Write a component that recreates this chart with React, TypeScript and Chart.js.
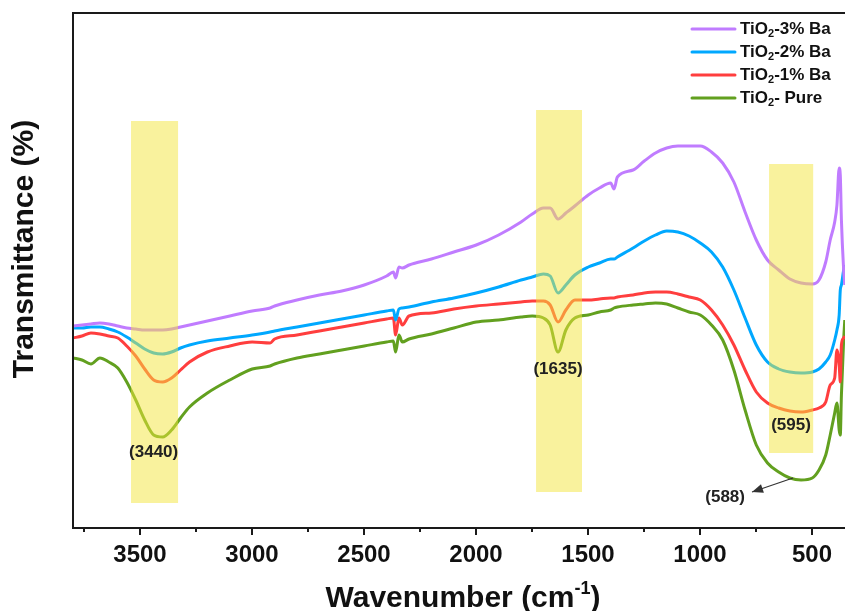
import React, { useEffect, useRef } from "react";
import { Chart, registerables } from "chart.js";

Chart.register(...registerables);

// Wavenumber grid (cm-1)
const wavenumbers = [
  3800, 3760, 3720, 3680, 3640, 3600, 3560, 3520, 3480, 3440,
  3400, 3360, 3320, 3280, 3200, 3100, 3000, 2920, 2900, 2800,
  2700, 2600, 2500, 2400, 2370, 2360, 2345, 2330, 2300, 2200,
  2100, 2000, 1900, 1800, 1750, 1700, 1670, 1635, 1600, 1560,
  1500, 1450, 1400, 1385, 1370, 1300, 1250, 1200, 1150, 1100,
  1050, 1000, 950, 900, 850, 800, 750, 700, 650, 600,
  550, 500, 470, 440, 420, 400, 390, 380, 375, 370,
  360, 355,
];

// Transmittance (a.u.) for each sample
const tio2Ba3 = [
  40.4, 40.6, 40.8, 41.0, 40.8, 40.4, 40.0, 39.8, 39.6, 39.6,
  39.6, 39.8, 40.2, 40.6, 41.4, 42.4, 43.4, 44.0, 44.4, 45.6,
  46.6, 47.4, 48.6, 50.4, 51.2, 50.0, 52.2, 52.0, 52.6, 53.8,
  55.2, 56.6, 58.6, 61.2, 62.8, 64.0, 64.0, 61.8, 63.0, 64.4,
  66.6, 68.0, 69.0, 67.8, 70.2, 71.6, 73.4, 75.0, 76.0, 76.4,
  76.4, 76.4, 75.2, 73.0, 69.2, 63.2, 57.6, 53.6, 51.6, 49.8,
  49.0, 48.8, 49.6, 53.2, 57.6, 61.2, 64.6, 72.0, 70.6, 61.6,
  51.6, 48.6,
];
const tio2Ba2 = [
  40.0, 40.0, 40.2, 40.2, 39.8, 39.2, 38.2, 37.0, 35.8, 35.0,
  34.8, 35.2, 36.0, 36.6, 37.4, 38.0, 38.6, 39.2, 39.4, 40.2,
  41.0, 41.8, 42.6, 43.4, 43.6, 41.6, 43.8, 44.0, 44.2, 45.2,
  46.0, 47.0, 48.2, 49.6, 50.2, 50.8, 50.4, 47.0, 48.6, 50.6,
  52.2, 53.0, 53.8, 53.8, 54.2, 56.0, 57.4, 58.6, 59.4, 59.2,
  58.4, 57.0, 55.2, 52.2, 47.6, 42.0, 36.6, 33.2, 31.8, 31.2,
  31.0, 31.2, 31.8, 33.2, 34.6, 37.6, 39.6, 42.6, 47.6, 48.6,
  51.6, 52.6,
];
const tio2Ba1 = [
  38.0, 38.4, 39.0, 38.8, 38.4, 38.0, 36.4, 34.4, 31.8, 29.6,
  29.2, 30.0, 31.6, 33.2, 35.2, 36.4, 37.2, 37.0, 37.8, 38.6,
  39.4, 40.2, 41.0, 41.8, 42.0, 38.6, 42.0, 40.6, 42.4, 43.0,
  43.8, 44.4, 44.8, 45.2, 45.4, 45.4, 44.6, 41.2, 43.6, 45.6,
  45.6, 45.8, 46.0, 46.0, 46.2, 46.6, 47.0, 47.2, 47.2, 46.8,
  46.2, 45.6, 43.6, 40.6, 36.6, 31.6, 27.2, 25.0, 24.0, 23.4,
  23.2, 23.6, 24.0, 25.2, 28.6, 30.0, 35.6, 32.6, 29.2, 36.6,
  38.0, 38.4,
];
const tio2Pure = [
  34.0, 33.6, 32.8, 34.0, 33.2, 32.0, 29.2, 25.6, 21.6, 18.6,
  18.2, 19.6, 22.0, 24.2, 27.0, 29.6, 31.8, 32.4, 32.8, 34.0,
  34.8, 35.6, 36.4, 37.2, 37.4, 35.2, 38.6, 37.2, 37.8, 38.8,
  40.0, 41.2, 41.6, 42.2, 42.4, 42.0, 40.6, 35.2, 39.6, 42.0,
  42.6, 43.2, 43.6, 44.0, 44.2, 44.6, 44.8, 45.0, 44.8, 44.0,
  43.2, 42.6, 40.6, 37.6, 31.6, 23.6, 16.6, 13.0, 11.2, 10.0,
  9.6, 10.0, 11.6, 14.6, 18.6, 23.0, 25.0, 19.6, 18.6, 26.6,
  37.6, 41.6,
];

const seriesSuffix = ["-3% Ba", "-2% Ba", "-1% Ba", "- Pure"];
const seriesColors = ["#c07cff", "#00a8ff", "#ff3e3e", "#62a01f"];

// x-axis ticks
const tickValues = [3750, 3500, 3250, 3000, 2750, 2500, 2250, 2000, 1750, 1500, 1250, 1000, 750, 500];
const tickLabels = ["", "3500", "", "3000", "", "2500", "", "2000", "", "1500", "", "1000", "", "500"];

// highlighted bands: [wn start, wn end, top, bottom]
const bandStarts = [3541, 1733, 693];
const bandEnds = [3331, 1528, 496];
const bandTops = [81.4, 83.6, 72.8];
const bandBottoms = [5.0, 7.2, 15.0];

// peak annotations
const peakLabels = ["(3440)", "(1635)", "(595)", "(588)"];
const peakLabelX = [3440, 1635, 595, 889];
const peakLabelY = [15.2, 31.8, 20.6, 6.2];
const arrowFrom = [586, 10.0];
const arrowTo = [769, 7.2];

const FONT = '"Liberation Sans", Arial, Helvetica, sans-serif';

const overlayPlugin = {
  id: "overlay",
  afterDatasetsDraw(chart: any) {
    const { ctx, chartArea: ca, scales } = chart;
    const xs = scales.x;
    const ys = scales.y;
    ctx.save();

    // yellow bands
    ctx.fillStyle = "rgba(244,230,60,0.5)";
    for (let i = 0; i < bandStarts.length; i++) {
      const x1 = xs.getPixelForValue(bandStarts[i]);
      const x2 = xs.getPixelForValue(bandEnds[i]);
      const y1 = ys.getPixelForValue(bandTops[i]);
      const y2 = ys.getPixelForValue(bandBottoms[i]);
      ctx.fillRect(Math.min(x1, x2), y1, Math.abs(x2 - x1), y2 - y1);
    }

    // frame
    ctx.strokeStyle = "#1a1a1a";
    ctx.lineWidth = 2;
    ctx.beginPath();
    ctx.moveTo(ca.right + 2, ca.top);
    ctx.lineTo(ca.left, ca.top);
    ctx.lineTo(ca.left, ca.bottom);
    ctx.lineTo(ca.right + 2, ca.bottom);
    ctx.stroke();

    // ticks + labels
    ctx.fillStyle = "#111";
    ctx.font = `bold 24px ${FONT}`;
    ctx.textAlign = "center";
    ctx.textBaseline = "alphabetic";
    tickValues.forEach((v, i) => {
      const px = Math.round(xs.getPixelForValue(v));
      const major = tickLabels[i] !== "";
      ctx.beginPath();
      ctx.moveTo(px, ca.bottom);
      ctx.lineTo(px, ca.bottom + (major ? 7 : 4));
      ctx.stroke();
      if (major) ctx.fillText(tickLabels[i], px, ca.bottom + 34);
    });

    // x title with superscript
    const tMain = "Wavenumber (cm";
    const tSup = "-1";
    const tEnd = ")";
    ctx.font = `bold 30px ${FONT}`;
    const wMain = ctx.measureText(tMain).width;
    const wEnd = ctx.measureText(tEnd).width;
    ctx.font = `bold 18px ${FONT}`;
    const wSup = ctx.measureText(tSup).width;
    const total = wMain + wSup + wEnd;
    let sx = (ca.left + ca.right) / 2 + 4 - total / 2;
    const by = ca.bottom + 79;
    ctx.textAlign = "left";
    ctx.font = `bold 30px ${FONT}`;
    ctx.fillText(tMain, sx, by);
    sx += wMain;
    ctx.font = `bold 18px ${FONT}`;
    ctx.fillText(tSup, sx, by - 13);
    sx += wSup;
    ctx.font = `bold 30px ${FONT}`;
    ctx.fillText(tEnd, sx, by);

    // y title
    ctx.save();
    ctx.translate(25, 249);
    ctx.rotate(-Math.PI / 2);
    ctx.textAlign = "center";
    ctx.textBaseline = "middle";
    ctx.font = `bold 30px ${FONT}`;
    ctx.fillText("Transmittance (%)", 0, 0);
    ctx.restore();

    // peak labels
    ctx.font = `bold 17px ${FONT}`;
    ctx.textAlign = "center";
    ctx.textBaseline = "middle";
    ctx.fillStyle = "#222";
    peakLabels.forEach((t, i) => {
      ctx.fillText(t, xs.getPixelForValue(peakLabelX[i]), ys.getPixelForValue(peakLabelY[i]));
    });

    // arrow
    const ax1 = xs.getPixelForValue(arrowFrom[0]);
    const ay1 = ys.getPixelForValue(arrowFrom[1]);
    const ax2 = xs.getPixelForValue(arrowTo[0]);
    const ay2 = ys.getPixelForValue(arrowTo[1]);
    ctx.strokeStyle = "#333";
    ctx.fillStyle = "#333";
    ctx.lineWidth = 1.2;
    ctx.beginPath();
    ctx.moveTo(ax1, ay1);
    ctx.lineTo(ax2, ay2);
    ctx.stroke();
    const ang = Math.atan2(ay2 - ay1, ax2 - ax1);
    const hl = 11;
    const hw = 4.5;
    ctx.beginPath();
    ctx.moveTo(ax2, ay2);
    ctx.lineTo(ax2 - hl * Math.cos(ang) + hw * Math.sin(ang), ay2 - hl * Math.sin(ang) - hw * Math.cos(ang));
    ctx.lineTo(ax2 - hl * Math.cos(ang) - hw * Math.sin(ang), ay2 - hl * Math.sin(ang) + hw * Math.cos(ang));
    ctx.closePath();
    ctx.fill();

    // legend
    const lx1 = 692;
    const lx2 = 735;
    const rows = [29, 52, 75, 98];
    seriesSuffix.forEach((suf, i) => {
      const ry = rows[i];
      ctx.strokeStyle = seriesColors[i];
      ctx.lineWidth = 3;
      ctx.lineCap = "round";
      ctx.beginPath();
      ctx.moveTo(lx1, ry);
      ctx.lineTo(lx2, ry);
      ctx.stroke();
      ctx.fillStyle = "#111";
      ctx.textAlign = "left";
      ctx.textBaseline = "middle";
      let tx = 740;
      ctx.font = `bold 17px ${FONT}`;
      ctx.fillText("TiO", tx, ry);
      tx += ctx.measureText("TiO").width;
      ctx.font = `bold 11px ${FONT}`;
      ctx.fillText("2", tx, ry + 5);
      tx += ctx.measureText("2").width;
      ctx.font = `bold 17px ${FONT}`;
      ctx.fillText(suf, tx, ry);
    });

    ctx.restore();
  },
};

export default function App() {
  const canvasRef = useRef<HTMLCanvasElement | null>(null);

  useEffect(() => {
    document.body.style.margin = "0";
    const canvas = canvasRef.current;
    if (!canvas) return;
    const seriesValues = [tio2Ba3, tio2Ba2, tio2Ba1, tio2Pure];
    const chart = new Chart(canvas, {
      type: "line",
      data: {
        datasets: seriesValues.map((vals, i) => ({
          label: "TiO2" + seriesSuffix[i],
          data: wavenumbers.map((w, j) => ({ x: w, y: vals[j] })),
          borderColor: seriesColors[i],
          borderWidth: 3,
          pointRadius: 0,
          fill: false,
          cubicInterpolationMode: "monotone" as const,
        })),
      },
      options: {
        responsive: false,
        animation: false,
        devicePixelRatio: 1,
        layout: { padding: { left: 73, top: 13, right: 0, bottom: 83 } },
        plugins: { legend: { display: false }, tooltip: { enabled: false } },
        scales: {
          x: { type: "linear", reverse: true, min: 354, max: 3800, display: false },
          y: { type: "linear", min: 0, max: 103, display: false },
        },
      },
      plugins: [overlayPlugin],
    });
    return () => chart.destroy();
  }, []);

  return (
    <div style={{ width: 845, height: 611, position: "relative" }}>
      <canvas ref={canvasRef} width={845} height={611} style={{ display: "block" }} />
    </div>
  );
}
